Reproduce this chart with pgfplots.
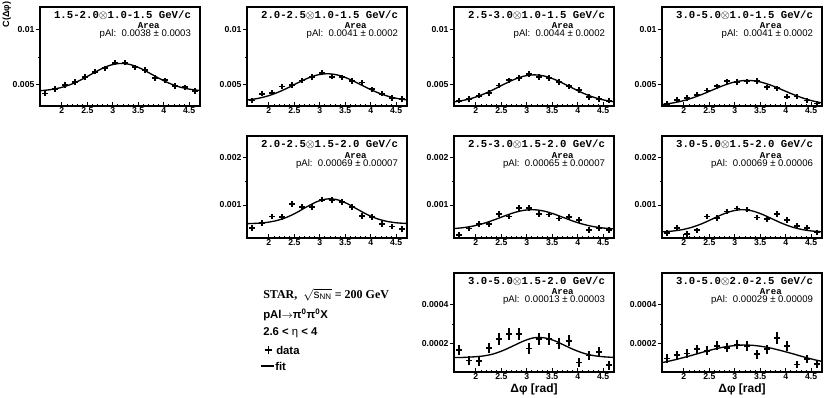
\documentclass[border=0pt]{standalone}
\usepackage{fontspec}
\setmainfont{Liberation Sans}
\newfontfamily\mono{Liberation Mono}
\newfontfamily\serif{Liberation Serif}
\usepackage{pgfplots}
\pgfplotsset{compat=1.18}
\usepackage{pgfplotstable}

% data points: bin centres, one column per panel; e8/e9 = y errors of the bottom row
\pgfplotstableread{
x     d1      d2      d3      d4      d5       d6       d7       d8       d9       e8       e9
1.669 0.00422 0.00360 0.00357 0.00327 0.000517 0.000364 0.000399 0.000165 0.000120 0.000027 0.000022
1.865 0.00462 0.00420 0.00372 0.00366 0.000622 0.000503 0.000510 0.000110 0.000139 0.000025 0.000022
2.062 0.00500 0.00429 0.00402 0.00381 0.000755 0.000594 0.000378 0.000108 0.000146 0.000025 0.000022
2.258 0.00527 0.00485 0.00426 0.00411 0.000741 0.000601 0.000462 0.000174 0.000169 0.000027 0.000023
2.454 0.00571 0.00500 0.00494 0.00449 0.001014 0.000804 0.000755 0.000223 0.000160 0.000030 0.000023
2.651 0.00619 0.00539 0.00542 0.00488 0.000958 0.000755 0.000727 0.000249 0.000186 0.000031 0.000024
2.847 0.00649 0.00571 0.00562 0.00533 0.000958 0.000937 0.000860 0.000249 0.000176 0.000031 0.000024
3.043 0.00699 0.00610 0.00598 0.00527 0.001112 0.000930 0.000923 0.000172 0.000193 0.000028 0.000025
3.240 0.00699 0.00574 0.00571 0.00530 0.001105 0.000811 0.000902 0.000223 0.000186 0.000030 0.000025
3.436 0.00658 0.00568 0.00562 0.00536 0.001056 0.000797 0.000734 0.000223 0.000143 0.000030 0.000023
3.633 0.00634 0.00536 0.00527 0.00479 0.000958 0.000713 0.000706 0.000198 0.000169 0.000027 0.000024
3.829 0.00562 0.00521 0.00488 0.00470 0.000769 0.000741 0.000804 0.000212 0.000226 0.000028 0.000030
4.025 0.00542 0.00461 0.00455 0.00393 0.000741 0.000685 0.000685 0.000099 0.000186 0.000024 0.000026
4.222 0.00491 0.00420 0.00390 0.00396 0.000601 0.000476 0.000552 0.000136 0.000089 0.000025 0.000020
4.418 0.00479 0.00381 0.00372 0.00360 0.000545 0.000517 0.000510 0.000153 0.000118 0.000026 0.000022
4.614 0.00446 0.00372 0.00357 0.00333 0.000490 0.000476 0.000420 0.000085 0.000090 0.000022 0.000020
}\datatab

% fitted curves
\pgfplotstableread{
x      f1       f2       f3       f4       f5       f6       f7       f8       f9
1.5708 0.004473 0.003636 0.003469 0.003241 0.000604 0.000500 0.000431 0.000125 0.0000988
1.7671 0.004565 0.003767 0.003619 0.003361 0.000612 0.000521 0.000446 0.000126 0.000110
1.9635 0.004735 0.003982 0.003855 0.003547 0.000631 0.000557 0.000476 0.000129 0.000123
2.1598 0.005013 0.004295 0.004187 0.003810 0.000671 0.000612 0.000528 0.000134 0.000137
2.3562 0.005408 0.004697 0.004602 0.004144 0.000741 0.000683 0.000604 0.000145 0.000152
2.5525 0.005890 0.005147 0.005057 0.004521 0.000843 0.000763 0.000699 0.000164 0.000166
2.7489 0.006378 0.005571 0.005479 0.004894 0.000963 0.000837 0.000796 0.000188 0.000178
2.9452 0.006758 0.005881 0.005783 0.005198 0.001070 0.000887 0.000870 0.000212 0.000186
3.1416 0.006927 0.006000 0.005900 0.005373 0.001127 0.000899 0.000900 0.000228 0.000190
3.3379 0.006833 0.005899 0.005801 0.005383 0.001112 0.000870 0.000875 0.000228 0.000189
3.5343 0.006504 0.005604 0.005511 0.005223 0.001031 0.000808 0.000803 0.000214 0.000183
3.7306 0.006035 0.005186 0.005096 0.004930 0.000914 0.000729 0.000707 0.000190 0.000173
3.9270 0.005542 0.004734 0.004641 0.004562 0.000799 0.000651 0.000611 0.000166 0.000160
4.1233 0.005116 0.004326 0.004219 0.004182 0.000709 0.000586 0.000533 0.000147 0.000146
4.3197 0.004803 0.004005 0.003879 0.003842 0.000652 0.000540 0.000480 0.000135 0.000131
4.5160 0.004604 0.003782 0.003635 0.003571 0.000621 0.000510 0.000448 0.000129 0.000117
4.7124 0.004493 0.003644 0.003478 0.003377 0.000608 0.000494 0.000432 0.000126 0.000105
}\fittab

\pgfplotsset{
  panel/.style={
    scale only axis, width=120pt, anchor=south west,
    xmin=1.5708, xmax=4.7124,
    xtick={2,2.5,3,3.5,4,4.5}, minor x tick num=4, minor y tick num=1,
    tick pos=left, xtick align=inside, ytick align=outside,
    major tick length=3pt, minor tick length=1.5pt,
    axis line style={line width=0.8pt},
    every tick/.style={black, line width=0.6pt},
    tick label style={font=\bfseries\fontsize{6.5}{7}\selectfont},
    /pgf/number format/assume math mode=true,
    scaled y ticks=false,
    yticklabel style={/pgf/number format/fixed, /pgf/number format/precision=4, inner sep=1pt},
    xticklabel style={inner sep=1pt},
    clip mode=individual,
  },
  row1/.style={panel, height=74.25pt, ymin=0.0031, ymax=0.012, ytick={0.005,0.01}},
  row2/.style={panel, height=76.5pt, ymin=0.0003, ymax=0.00246, ytick={0.001,0.002}},
  row3/.style={panel, height=74.25pt, ymin=0.00005, ymax=0.000565, ytick={0.0002,0.0004}},
  dat/.style={draw=none, mark=none,
    error bars/x dir=both, error bars/x fixed=0.055, error bars/y dir=both,
    error bars/error mark=none,
    error bars/error bar style={draw=black, solid, line width=1.3pt}},
  fitline/.style={black, line width=1pt, smooth, no marks},
}

\newcommand{\ptext}[2]{%
  \node[anchor=east, inner sep=0, font=\mono\bfseries\fontsize{8}{9}\selectfont] at (rel axis cs:0.945,0.92) {#1 GeV/c};
  \node[inner sep=0, font=\mono\bfseries\fontsize{6.8}{7}\selectfont] at (rel axis cs:0.68,0.81) {Area};
  \node[anchor=east, inner sep=0, font=\fontsize{7.2}{8}\selectfont] at (rel axis cs:0.945,0.725) {pAl:\ \ #2};
}
\newcommand{\ox}{\ensuremath{\otimes}}

\begin{document}
\begin{tikzpicture}
\path[use as bounding box] (0,0) rectangle (622.5pt,-297.75pt);

% row 1
\begin{axis}[row1, at={(30pt,-79.5pt)}]
  \addplot[dat, error bars/y fixed=0.00024] table[x=x, y=d1] {\datatab};
  \addplot[fitline] table[x=x, y=f1] {\fittab};
  \ptext{1.5-2.0\ox1.0-1.5}{0.0038 ± 0.0003}
\end{axis}
\begin{axis}[row1, at={(185.25pt,-79.5pt)}]
  \addplot[dat, error bars/y fixed=0.00024] table[x=x, y=d2] {\datatab};
  \addplot[fitline] table[x=x, y=f2] {\fittab};
  \ptext{2.0-2.5\ox1.0-1.5}{0.0041 ± 0.0002}
\end{axis}
\begin{axis}[row1, at={(340.5pt,-79.5pt)}]
  \addplot[dat, error bars/y fixed=0.00024] table[x=x, y=d3] {\datatab};
  \addplot[fitline] table[x=x, y=f3] {\fittab};
  \ptext{2.5-3.0\ox1.0-1.5}{0.0044 ± 0.0002}
\end{axis}
\begin{axis}[row1, at={(496.5pt,-79.5pt)}]
  \addplot[dat, error bars/y fixed=0.00024] table[x=x, y=d4] {\datatab};
  \addplot[fitline] table[x=x, y=f4] {\fittab};
  \ptext{3.0-5.0\ox1.0-1.5}{0.0041 ± 0.0002}
\end{axis}

% row 2
\begin{axis}[row2, at={(185.25pt,-178.5pt)}]
  \addplot[dat, error bars/y fixed=0.00006] table[x=x, y=d5] {\datatab};
  \addplot[fitline] table[x=x, y=f5] {\fittab};
  \ptext{2.0-2.5\ox1.5-2.0}{0.00069 ± 0.00007}
\end{axis}
\begin{axis}[row2, at={(340.5pt,-178.5pt)}]
  \addplot[dat, error bars/y fixed=0.00006] table[x=x, y=d6] {\datatab};
  \addplot[fitline] table[x=x, y=f6] {\fittab};
  \ptext{2.5-3.0\ox1.5-2.0}{0.00065 ± 0.00007}
\end{axis}
\begin{axis}[row2, at={(496.5pt,-178.5pt)}]
  \addplot[dat, error bars/y fixed=0.00006] table[x=x, y=d7] {\datatab};
  \addplot[fitline] table[x=x, y=f7] {\fittab};
  \ptext{3.0-5.0\ox1.5-2.0}{0.00069 ± 0.00006}
\end{axis}

% row 3
\begin{axis}[row3, at={(340.5pt,-279pt)}]
  \addplot[dat, error bars/y explicit] table[x=x, y=d8, y error=e8] {\datatab};
  \addplot[fitline] table[x=x, y=f8] {\fittab};
  \ptext{3.0-5.0\ox1.5-2.0}{0.00013 ± 0.00003}
\end{axis}
\begin{axis}[row3, at={(496.5pt,-279pt)}]
  \addplot[dat, error bars/y explicit] table[x=x, y=d9, y error=e9] {\datatab};
  \addplot[fitline] table[x=x, y=f9] {\fittab};
  \ptext{3.0-5.0\ox2.0-2.5}{0.00029 ± 0.00009}
\end{axis}

% axis titles
\node[rotate=90, inner sep=0, font=\bfseries\fontsize{6.8}{7}\selectfont] at (5pt,-10.9pt) {C(Δφ)};
\node[font=\bfseries\fontsize{9}{10}\selectfont] at (400.5pt,-291.75pt) {Δφ [rad]};
\node[font=\bfseries\fontsize{9}{10}\selectfont] at (556.5pt,-291.75pt) {Δφ [rad]};

% legend block
\node[anchor=west, inner sep=0, font=\serif\bfseries\fontsize{9}{10}\selectfont] at (197.25pt,-221.25pt) {STAR,\ \ $\sqrt{\mathrm{s}_{\mathrm{NN}}}$ = 200 GeV};
\node[anchor=west, inner sep=0, font=\bfseries\fontsize{8.5}{10}\selectfont] at (197.25pt,-236.25pt) {pAl$\rightarrow$π\textsuperscript{0}π\textsuperscript{0}X};
\node[anchor=west, inner sep=0, font=\bfseries\fontsize{8.5}{10}\selectfont] at (197.25pt,-249.75pt) {2.6 <\ {\mdseries η} < 4};
\draw[line width=1pt] (198.5pt,-262.5pt) -- (204pt,-262.5pt) (201.25pt,-259.75pt) -- (201.25pt,-265.25pt);
\node[anchor=west, inner sep=0, font=\bfseries\fontsize{8.5}{10}\selectfont] at (207pt,-262.5pt) {data};
\draw[line width=1pt] (195.75pt,-274.5pt) -- (205.5pt,-274.5pt);
\node[anchor=west, inner sep=0, font=\bfseries\fontsize{8.5}{10}\selectfont] at (206.25pt,-274.5pt) {fit};
\end{tikzpicture}
\end{document}
